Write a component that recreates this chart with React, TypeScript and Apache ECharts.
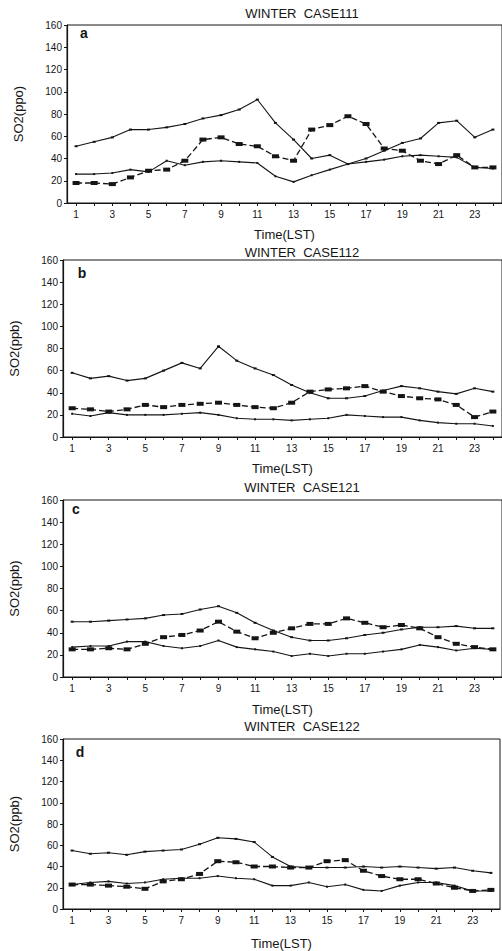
import React, { useEffect, useRef } from "react";
import * as echarts from "echarts";

// Hours (LST)
const hours = ["1","2","3","4","5","6","7","8","9","10","11","12","13","14","15","16","17","18","19","20","21","22","23","24"];
const yTicks = [0, 20, 40, 60, 80, 100, 120, 140, 160];

const titles = ["WINTER  CASE111", "WINTER  CASE112", "WINTER  CASE121", "WINTER  CASE122"];
const letters = ["a", "b", "c", "d"];
const yNames = ["SO2(ppo)", "SO2(ppb)", "SO2(ppb)", "SO2(ppb)"];
const xName = "Time(LST)";

// Panel a
const a_top = [51,55,59,66,66,68,71,76,79,84,93,72,57,40,43,35,40,47,54,58,72,74,59,66];
const a_sq  = [18,18,17,23,29,30,38,57,59,53,51,42,38,66,70,78,71,49,47,38,35,43,32,32];
const a_low = [26,26,27,30,28,38,34,37,38,37,36,24,19,25,30,35,37,39,42,43,42,41,32,31];
// Panel b
const b_top = [58,53,55,51,53,60,67,62,82,69,62,56,47,40,35,35,37,42,46,44,41,39,44,41];
const b_sq  = [26,25,23,25,29,27,29,30,31,29,27,26,31,41,43,44,46,41,37,35,34,29,18,23];
const b_low = [21,19,22,20,20,20,21,22,20,17,16,16,15,16,17,20,19,18,18,15,13,12,12,10];
// Panel c
const c_top = [50,50,51,52,53,56,57,61,64,58,49,42,36,33,33,35,38,40,43,45,45,46,44,44];
const c_sq  = [25,25,26,25,30,36,38,42,50,41,35,40,44,48,48,53,49,45,47,44,36,30,27,25];
const c_low = [27,28,28,32,32,28,26,28,33,27,25,23,19,21,19,21,21,23,25,29,27,24,26,25];
// Panel d
const d_top = [55,52,53,51,54,55,56,61,67,66,63,49,40,39,39,39,40,39,40,39,38,39,36,34];
const d_sq  = [23,23,22,21,19,26,28,33,45,44,40,40,39,39,45,46,36,31,28,28,24,20,17,18];
const d_low = [23,25,26,24,25,28,29,29,31,29,28,22,22,25,21,23,18,17,22,25,25,22,17,17];

const panelData = [
  [a_top, a_sq, a_low],
  [b_top, b_sq, b_low],
  [c_top, c_sq, c_low],
  [d_top, d_sq, d_low],
];

const FONT = "Liberation Sans, Arial, Helvetica, sans-serif";
const INK = "#151515";

export default function App() {
  const ref = useRef<HTMLDivElement>(null);

  useEffect(() => {
    if (!ref.current) return;
    const chart = echarts.init(ref.current, null, { renderer: "svg" });

    const layout = [
      { left: 67, top: 25, height: 178, width: 442, titleY: 13, lx: 84, ly: 33, gap: 25 },
      { left: 63, top: 260, height: 177, width: 442, titleY: 252, lx: 82, ly: 273, gap: 25 },
      { left: 63, top: 500, height: 177, width: 442, titleY: 487, lx: 76, ly: 509, gap: 26 },
      { left: 60, top: 739, height: 174, width: 440, titleY: 726, lx: 80, ly: 752, gap: 28 },
    ];

    const grid: any[] = [];
    const xAxis: any[] = [];
    const yAxis: any[] = [];
    const series: any[] = [];
    const graphic: any[] = [];

    layout.forEach((L, i) => {
      grid.push({
        left: L.left, top: L.top, width: L.width, height: L.height,
        show: true, borderColor: INK, borderWidth: 1, backgroundColor: "transparent",
      });
      xAxis.push({
        type: "category", gridIndex: i, data: hours, boundaryGap: true,
        name: xName, nameLocation: "middle", nameGap: L.gap,
        nameTextStyle: { color: INK, fontSize: 13, fontFamily: FONT, fontWeight: "normal" },
        axisLine: { lineStyle: { color: INK, width: 1.2 } },
        axisTick: { show: true, interval: 0, alignWithLabel: true, length: 3, lineStyle: { color: INK } },
        axisLabel: { interval: 1, color: INK, fontSize: 10, fontFamily: FONT, margin: 6 },
        splitLine: { show: false },
      });
      yAxis.push({
        type: "value", gridIndex: i, min: 0, max: 160, interval: 20,
        name: yNames[i], nameLocation: "middle", nameGap: 42, nameRotate: 90,
        nameTextStyle: { color: INK, fontSize: 13, fontFamily: FONT, fontWeight: "normal" },
        axisLine: { show: true, lineStyle: { color: INK, width: 1.2 } },
        axisTick: { show: true, length: 3, lineStyle: { color: INK } },
        axisLabel: {
          color: INK, fontSize: 10, fontFamily: FONT, margin: 5,
          formatter: (v: number) => (yTicks.indexOf(v) >= 0 ? String(v) : ""),
        },
        splitLine: { show: false },
      });
      const [top, sq, low] = panelData[i];
      series.push({
        type: "line", xAxisIndex: i, yAxisIndex: i, data: top,
        symbol: "rect", symbolSize: [3, 2], showSymbol: true,
        lineStyle: { color: INK, width: 1.1 }, itemStyle: { color: INK },
      });
      series.push({
        type: "line", xAxisIndex: i, yAxisIndex: i, data: sq,
        symbol: "rect", symbolSize: [7, 4], showSymbol: true,
        lineStyle: { color: INK, width: 1.3, type: [6, 3] }, itemStyle: { color: INK },
      });
      series.push({
        type: "line", xAxisIndex: i, yAxisIndex: i, data: low,
        symbol: "rect", symbolSize: [2, 2], showSymbol: true,
        lineStyle: { color: INK, width: 1.1 }, itemStyle: { color: INK },
      });
      graphic.push({
        type: "text", x: 302, y: L.titleY,
        style: { text: titles[i], fill: INK, font: `13px ${FONT}`, textAlign: "center", textVerticalAlign: "middle" },
      });
      graphic.push({
        type: "text", x: L.lx, y: L.ly,
        style: { text: letters[i], fill: INK, font: `bold 14px ${FONT}`, textAlign: "center", textVerticalAlign: "middle" },
      });
    });

    chart.setOption({
      animation: false,
      backgroundColor: "#ffffff",
      grid, xAxis, yAxis, series, graphic,
    });

    return () => chart.dispose();
  }, []);

  return (
    <div
      ref={ref}
      style={{ position: "fixed", left: 0, top: 0, width: 502, height: 951, background: "#fff" }}
    />
  );
}
